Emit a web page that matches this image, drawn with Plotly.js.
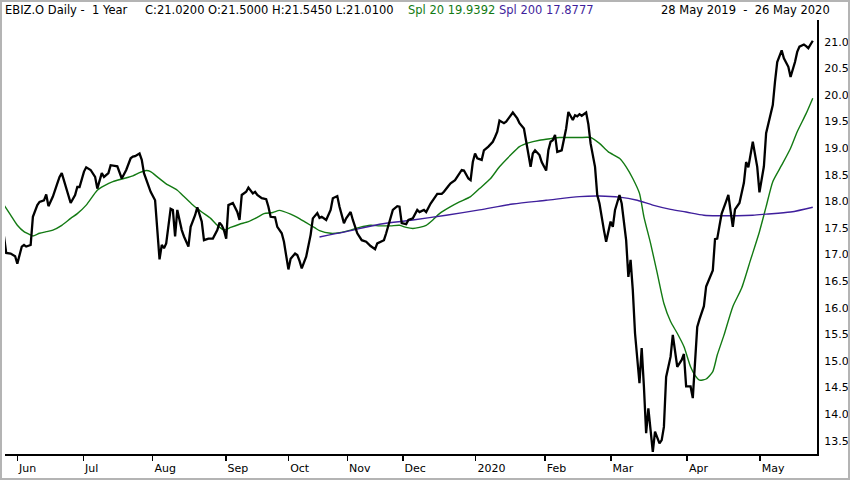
<!DOCTYPE html>
<html><head><meta charset="utf-8">
<script src="https://cdn.plot.ly/plotly-3.0.1.min.js"></script>
<style>
html,body{margin:0;padding:0;background:#fff;overflow:hidden;}
#frame{width:846px;height:476px;border:2px solid #b4b4b4;}
#chart{width:846px;height:476px;}
</style></head><body><div id="frame"><div id="chart"></div></div>
<script>
// Day offsets counted from 28 May 2019 (first bar)
const priceDays = [0,1,3,5,6,8,9,10,12,13,15,16,18,19,20,22,24,25,26,28,30,32,33,34,36,37,39,41,42,44,45,47,48,51,52,53,55,57,58,59,61,62,63,65,66,68,69,70,71,72,73,75,76,77,78,80,81,83,84,86,87,89,90,92,94,96,97,98,99,100,101,103,105,106,107,109,110,112,113,114,116,118,119,120,122,123,125,126,128,129,131,132,133,134,136,138,139,141,142,143,145,147,148,150,151,153,154,156,157,159,161,163,165,167,168,171,172,174,175,177,178,179,181,182,184,186,187,189,190,192,194,195,197,198,200,201,203,204,206,207,209,210,211,212,213,215,216,218,220,221,222,223,225,226,228,229,231,232,234,235,237,238,239,241,242,244,245,246,247,248,249,251,252,253,254,256,257,258,259,260,262,263,264,266,267,268,270,271,273,274,275,277,278,279,280,281,282,283,284,286,287,288,289,290,291,292,293,295,296,297,298,300,301,303,305,306,307,309,310,311,312,313,315,316,318,319,320,321,322,323,325,326,328,329,331,332,333,334,335,337,339,340,342,343,344,346,347,348,350,351,353,354,356,357,358,360,361,362,364];
const priceClose = [17.34,17.03,17.02,16.97,16.83,17.15,17.18,17.15,17.18,17.71,17.93,17.99,18.02,18.13,17.91,18.09,18.34,18.46,18.53,18.27,17.97,18.12,18.27,18.27,18.56,18.64,18.59,18.46,18.24,18.53,18.46,18.53,18.68,18.66,18.53,18.43,18.59,18.81,18.84,18.85,18.90,18.78,18.53,18.31,18.18,18.02,17.52,16.91,17.18,17.12,17.21,17.86,17.84,17.34,17.84,17.46,17.34,17.15,17.52,17.74,17.89,17.62,17.27,17.30,17.30,17.46,17.60,17.55,17.46,17.30,17.93,17.97,17.80,17.65,18.12,18.18,18.26,18.15,18.18,18.12,18.06,18.04,17.90,17.71,17.70,17.52,17.40,17.24,16.72,16.92,17.02,16.99,16.88,16.74,16.96,17.37,17.68,17.78,17.69,17.71,17.65,17.84,18.06,18.10,17.90,17.59,17.68,17.80,17.65,17.40,17.27,17.24,17.16,17.10,17.21,17.27,17.40,17.68,17.84,17.91,17.90,17.59,17.57,17.65,17.68,17.84,17.80,17.84,17.80,17.96,18.09,18.14,18.14,18.18,18.29,18.34,18.40,18.46,18.59,18.58,18.43,18.40,18.74,18.90,18.81,18.78,18.96,19.03,19.12,19.21,19.31,19.52,19.47,19.50,19.62,19.67,19.56,19.47,19.37,19.12,18.65,18.90,18.96,18.87,18.74,18.58,18.96,19.12,19.15,19.25,18.93,18.96,19.15,19.37,19.68,19.53,19.62,19.60,19.64,19.61,19.67,19.45,19.09,18.65,18.12,17.96,17.46,17.24,17.62,17.52,17.84,18.12,17.96,17.65,17.27,16.58,16.90,16.33,15.52,14.58,15.24,14.52,13.64,14.11,13.64,13.29,13.67,13.45,13.51,13.76,14.70,15.08,15.49,14.89,15.02,15.13,14.52,14.52,14.30,15.02,15.64,15.78,16.03,16.40,16.58,16.70,17.29,17.30,17.54,17.77,18.00,18.12,17.52,17.85,17.97,18.15,18.35,18.74,18.64,19.12,18.65,18.17,18.66,19.28,19.44,19.81,20.25,20.62,20.84,20.69,20.53,20.34,20.62,20.81,20.91,20.95,20.92,20.88,21.02];

const spl20Days = [0,3,6,9,12,13,16,19,22,26,30,33,37,42,45,49,54,58,61,64,66,69,73,78,81,85,89,93,96,99,102,106,110,114,117,121,124,129,132,136,140,142,147,151,156,160,165,169,174,178,181,184,187,190,193,196,201,205,210,214,219,223,228,232,236,241,246,250,255,259,264,268,272,277,280,283,286,288,291,294,297,300,303,306,309,311,313,316,319,321,324,328,332,336,340,343,346,350,354,357,361,364];
const spl20 = [17.93,17.74,17.55,17.43,17.37,17.35,17.40,17.43,17.46,17.55,17.68,17.77,17.93,18.21,18.29,18.37,18.43,18.48,18.54,18.58,18.56,18.46,18.33,18.21,18.09,17.93,17.80,17.68,17.55,17.46,17.51,17.57,17.62,17.70,17.77,17.79,17.83,17.76,17.70,17.60,17.50,17.45,17.40,17.41,17.46,17.51,17.55,17.54,17.54,17.55,17.51,17.49,17.51,17.55,17.65,17.77,17.90,17.99,18.09,18.24,18.43,18.65,18.87,19.03,19.10,19.15,19.18,19.20,19.20,19.20,19.20,19.09,18.93,18.81,18.65,18.43,18.15,17.71,17.21,16.65,16.08,15.74,15.52,15.27,14.89,14.73,14.64,14.66,14.80,15.11,15.48,16.02,16.37,16.90,17.43,17.90,18.37,18.68,19.00,19.31,19.65,19.94];

const spl200Days = [142,154,169,184,199,214,229,244,259,268,277,285,292,300,307,315,322,330,337,343,354,364];
const spl200 = [17.33,17.43,17.57,17.65,17.74,17.84,17.95,18.02,18.09,18.10,18.08,18.02,17.93,17.85,17.80,17.74,17.73,17.73,17.74,17.76,17.80,17.89];

// Month tick positions (day offsets)
const tickDays = [6,35.7,66.9,99.8,128,154.5,179.5,212.3,243.5,273.1,307.5,340.3];
const tickLabels = ['Jun','Jul','Aug','Sep','Oct','Nov','Dec','2020','Feb','Mar','Apr','May'];
const yTicks = [13.5,14.0,14.5,15.0,15.5,16.0,16.5,17.0,17.5,18.0,18.5,19.0,19.5,20.0,20.5,21.0];

const headerLeft = 'EBIZ.O Daily -&nbsp; 1 Year';
const headerOHLC = 'C:21.0200 O:21.5000 H:21.5450 L:21.0100';
const headerSpl20 = 'Spl 20 19.9392';
const headerSpl200 = 'Spl 200 17.8777';
const headerDates = '28 May 2019 &nbsp;-&nbsp; 26 May 2020';

const GREEN = '#137a13';
const PURPLE = '#3f1f9c';

const traces = [
  {x: spl20Days, y: spl20, type:'scatter', mode:'lines', line:{color:GREEN, width:1.4, shape:'spline', smoothing:0.6}, hoverinfo:'skip'},
  {x: spl200Days, y: spl200, type:'scatter', mode:'lines', line:{color:PURPLE, width:1.4, shape:'spline', smoothing:0.8}, hoverinfo:'skip'},
  {x: priceDays, y: priceClose, type:'scatter', mode:'lines', line:{color:'#000', width:2.3}, hoverinfo:'skip'}
];

const PLOT_L = 5, PLOT_W = 812; // image px
const px = p => (p - PLOT_L) / PLOT_W;
const HY = 1.022;
const hfont = {family:'DejaVu Sans, sans-serif', size:11.5, color:'#000'};
function ann(text, x){
  return {text:text, x:px(x), y:HY, xref:'paper', yref:'paper', xanchor:'left', yanchor:'middle', showarrow:false, borderpad:0, font:hfont};
}
const splText = '<span style="color:' + GREEN + '">' + headerSpl20 + '</span> <span style="color:' + PURPLE + '">' + headerSpl200 + '</span>';

const layout = {
  width:846, height:476,
  margin:{l:3, r:31, t:18, b:24, pad:0},
  paper_bgcolor:'#fff', plot_bgcolor:'#fff',
  showlegend:false,
  font:{family:'DejaVu Sans, sans-serif', size:11, color:'#000'},
  xaxis:{type:'linear', range:[0.45,365.9], tickmode:'array', tickvals:tickDays, ticktext:tickLabels,
    ticks:'outside', ticklen:5, tickwidth:1.5, tickcolor:'#000', showline:true, linecolor:'#000', linewidth:2,
    showgrid:false, zeroline:false, ticklabelposition:'outside right', ticklabelstandoff:3, fixedrange:true,
    tickfont:{family:'DejaVu Sans, sans-serif', size:11, color:'#000'}},
  yaxis:{side:'right', range:[13.25,21.41], tickmode:'array', tickvals:yTicks, tickformat:'.1f',
    ticks:'', showline:true, linecolor:'#000', linewidth:2, showgrid:false, zeroline:false, fixedrange:true,
    ticklabelstandoff:3, tickfont:{family:'DejaVu Sans, sans-serif', size:11, color:'#000'}},
  annotations:[
    ann(headerLeft, 4),
    ann(headerOHLC, 144),
    ann(splText, 407),
    ann(headerDates, 660)
  ]
};

Plotly.newPlot('chart', traces, layout, {staticPlot:true, displayModeBar:false});
</script></body></html>
